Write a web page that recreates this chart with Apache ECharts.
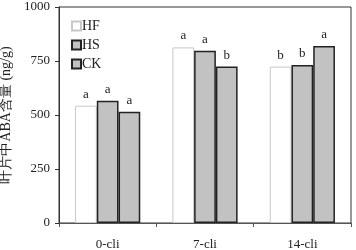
<!DOCTYPE html>
<html><head><meta charset="utf-8">
<script src="https://cdn.jsdelivr.net/npm/echarts@6/dist/echarts.min.js"></script>
<style>html,body{margin:0;padding:0;background:#fff}#c{width:356px;height:250px}</style>
</head><body><div id="c"></div>
<script>
var categories = ['0-cli', '7-cli', '14-cli'];
var seriesNames = ['HF', 'HS', 'CK'];
var hfValues = [543, 813, 724];
var hsValues = [566, 798, 731];
var ckValues = [515, 724, 819];
var hfLetters = ['a', 'a', 'b'];
var hsLetters = ['a', 'a', 'b'];
var ckLetters = ['a', 'b', 'a'];
var yTicks = [0, 250, 500, 750, 1000];

var serif = 'Liberation Serif';
function mk(name, vals, letters, style) {
  return {
    name: name, type: 'bar', data: vals, barGap: '0%', barCategoryGap: '33%',
    itemStyle: style,
    label: { show: true, position: 'top', distance: 5, fontFamily: serif, fontSize: 13, color: '#222',
      formatter: function (p) { return letters[p.dataIndex]; } }
  };
}
var chart = echarts.init(document.getElementById('c'));
chart.setOption({
  animation: false,
  grid: { left: 59, top: 7, right: 5, bottom: 27, show: true, borderColor: '#333', borderWidth: 1,
    containLabel: false, outerBoundsMode: 'none' },
  legend: {
    data: seriesNames.map(function (n) { return { name: n, icon: 'rect' }; }),
    orient: 'vertical', left: 66, top: 14, itemWidth: 9, itemHeight: 9, itemGap: 5,
    textStyle: { fontFamily: serif, fontSize: 14, color: '#222', padding: [0, 0, 0, -4] }
  },
  xAxis: {
    type: 'category', data: categories,
    axisLine: { lineStyle: { color: '#555' } },
    axisTick: { show: true, length: 4, lineStyle: { color: '#555' } },
    axisLabel: { fontFamily: serif, fontSize: 13, color: '#222', margin: 15 }
  },
  yAxis: {
    type: 'value', min: yTicks[0], max: yTicks[yTicks.length - 1], interval: 250,
    name: '叶片中ABA含量 (ng/g)', nameLocation: 'middle', nameGap: 42,
    nameTextStyle: { fontFamily: serif, fontSize: 14, color: '#222' },
    axisLine: { show: true, lineStyle: { color: '#333' } },
    axisTick: { show: true, length: 4, lineStyle: { color: '#333' } },
    splitLine: { show: false },
    axisLabel: { fontFamily: serif, fontSize: 13, color: '#222', margin: 9,
      formatter: function (v) { return String(v); } }
  },
  series: [
    mk('HF', hfValues, hfLetters, { color: '#ffffff', borderColor: '#c8c8c8', borderWidth: 1 }),
    mk('HS', hsValues, hsLetters, { color: '#c2c2c2', borderColor: '#222', borderWidth: 1.5 }),
    mk('CK', ckValues, ckLetters, { color: '#c2c2c2', borderColor: '#222', borderWidth: 1.5 })
  ]
});
</script></body></html>
